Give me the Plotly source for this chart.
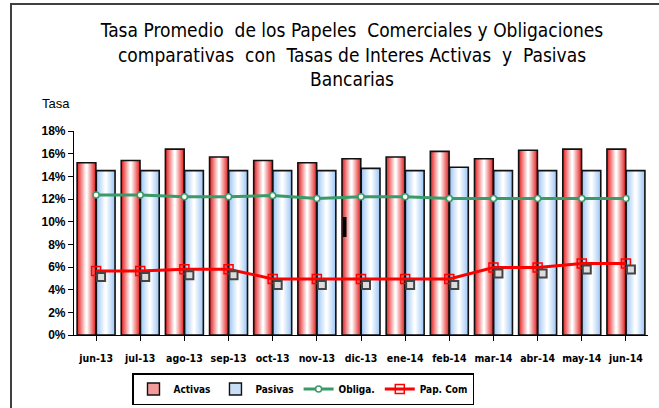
import plotly.graph_objects as go

meses = ["jun-13", "jul-13", "ago-13", "sep-13", "oct-13", "nov-13", "dic-13",
         "ene-14", "feb-14", "mar-14", "abr-14", "may-14", "jun-14"]
activas = [15.2, 15.4, 16.4, 15.7, 15.4, 15.2, 15.55, 15.7, 16.2, 15.55, 16.3, 16.4, 16.4]
pasivas = [14.5, 14.5, 14.5, 14.5, 14.5, 14.5, 14.7, 14.5, 14.8, 14.5, 14.5, 14.5, 14.5]
obliga = [12.35, 12.35, 12.2, 12.2, 12.3, 12.05, 12.2, 12.2, 12.05, 12.05, 12.05, 12.05, 12.05]
papcom = [5.65, 5.65, 5.8, 5.8, 4.95, 4.95, 4.95, 4.95, 4.95, 5.95, 5.95, 6.3, 6.3]

y_ticks = [0, 2, 4, 6, 8, 10, 12, 14, 16, 18]
y_labels = [f"{v}%" for v in y_ticks]

idx = list(range(len(meses)))
FONT = "DejaVu Sans Condensed, Liberation Sans Narrow, Arial Narrow, sans-serif"

fig = go.Figure()

BW = 0.425


def interp(c1, c2, t):
    return "rgb(%d,%d,%d)" % tuple(round(a + (b - a) * t) for a, b in zip(c1, c2))


def gradient_bars(vals, name, center, edge, mid, lg_color):
    steps = 9
    for i in range(steps):
        frac = 1 - i / steps
        w = BW * frac
        t = i / (steps - 1)
        col = interp(edge, mid, t)
        fig.add_trace(go.Bar(
            x=idx, y=vals, width=w, offset=center - w / 2,
            marker=dict(color=col, line=dict(width=0)),
            showlegend=False, hoverinfo="skip"))
    fig.add_trace(go.Bar(
        x=idx, y=vals, width=BW, offset=center - BW / 2, name=name,
        marker=dict(color="rgba(0,0,0,0)", line=dict(color="#111", width=1.6)),
        showlegend=False))
    fig.add_trace(go.Bar(
        x=[None], y=[None], name=name,
        marker=dict(color=lg_color, line=dict(color="#111", width=1.4))))


gradient_bars(activas, "Activas", -BW / 2 - 0.005, (230, 40, 40), (255, 255, 255), "#f39a9a")
gradient_bars(pasivas, "Pasivas", BW / 2 + 0.005, (160, 200, 245), (255, 255, 255), "#c9def7")

fig.add_trace(go.Scatter(
    x=idx, y=obliga, name="Obliga.", mode="lines+markers",
    line=dict(color="#3a9a68", width=3),
    marker=dict(symbol="circle", size=6, color="white", line=dict(color="#3a9a68", width=1.5))))

fig.add_trace(go.Scatter(
    x=idx, y=papcom, mode="markers", xaxis="x2", yaxis="y2", showlegend=False,
    hoverinfo="skip",
    marker=dict(symbol="square", size=8, color="#dcdcdc", line=dict(color="#444", width=2))))

fig.add_trace(go.Scatter(
    x=idx, y=papcom, name="Pap. Com", mode="lines+markers",
    line=dict(color="#ff0000", width=3),
    marker=dict(symbol="square-open", size=9, color="#ff0000", line=dict(width=1.5))))

PX_X = 13 / 574
PX_Y = 18 / 204
fig.update_layout(
    width=659, height=408,
    margin=dict(l=74, r=11, t=131, b=73, autoexpand=False),
    paper_bgcolor="white", plot_bgcolor="white",
    barmode="overlay",
    font=dict(family=FONT, color="black"),
    title=dict(
        text="Tasa Promedio  de los Papeles  Comerciales y Obligaciones<br>comparativas  con  Tasas de Interes Activas  y  Pasivas<br>Bancarias",
        x=352 / 659, xanchor="center",
        xref="container", yref="container", y=1 - 37 / 408, yanchor="top",
        font=dict(family=FONT, size=19, color="black")),
    xaxis=dict(
        tickmode="array", tickvals=idx, ticktext=meses, range=[-0.5, 12.5],
        showline=True, linecolor="black", linewidth=1.2,
        ticks="outside", tickson="boundaries", ticklen=5, tickcolor="black",
        showgrid=False, zeroline=False, automargin=False, ticklabelstandoff=8,
        tickfont=dict(family=FONT, size=10.5, color="black", weight="bold")),
    yaxis=dict(
        range=[0, 18], tickvals=y_ticks, ticktext=y_labels,
        showline=True, linecolor="black", linewidth=1.2,
        ticks="outside", ticklen=5, tickcolor="black",
        showgrid=False, zeroline=False, automargin=False,
        tickfont=dict(family="Liberation Sans, Arial, sans-serif", size=12, color="black", weight="bold")),
    xaxis2=dict(overlaying="x", range=[-0.5 - 5 * PX_X, 12.5 - 5 * PX_X], visible=False),
    yaxis2=dict(overlaying="y", range=[6 * PX_Y, 18 + 6 * PX_Y], visible=False),
    legend=dict(
        orientation="h", xref="container", yref="container",
        x=303 / 659, xanchor="center", y=1 - 373 / 408, yanchor="top",
        bordercolor="black", borderwidth=1.5, bgcolor="white",
        font=dict(family=FONT, size=10, color="black", weight="bold"),
        itemwidth=30, tracegroupgap=0, traceorder="normal"),
    showlegend=True,
    annotations=[dict(
        text="Tasa", xref="paper", yref="paper",
        x=(40 - 74) / 574, y=(335 - 103) / 204, xanchor="left", yanchor="middle",
        showarrow=False, font=dict(family="Liberation Sans, Arial, sans-serif", size=13, color="black"))],
    shapes=[
        dict(type="rect", xref="paper", yref="paper",
             x0=(11 - 74) / 574, x1=1.1, y0=-0.5, y1=(335 - 4) / 204,
             line=dict(color="#404040", width=2), fillcolor="rgba(0,0,0,0)", layer="below"),
        dict(type="rect", xref="paper", yref="paper",
             x0=(343 - 74) / 574, x1=(346.5 - 74) / 574,
             y0=(335 - 237) / 204, y1=(335 - 217) / 204,
             line=dict(width=0), fillcolor="black"),
    ],
)

fig.write_html("out.html", config={"displayModeBar": False},
               post_script="document.body.style.margin='0';")
